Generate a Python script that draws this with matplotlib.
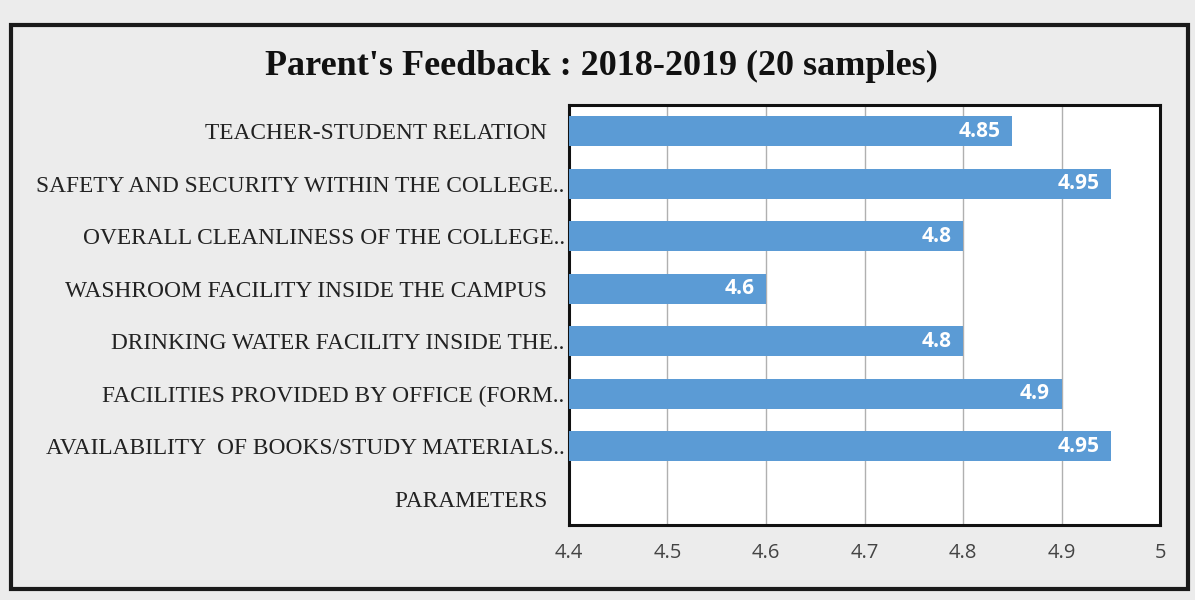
import matplotlib.pyplot as plt
from matplotlib.patches import Rectangle

# ---- data (top to bottom as in the chart) ----
categories = [
    "TEACHER-STUDENT RELATION   ",
    "SAFETY AND SECURITY WITHIN THE COLLEGE..",
    "OVERALL CLEANLINESS OF THE COLLEGE..",
    "WASHROOM FACILITY INSIDE THE CAMPUS   ",
    "DRINKING WATER FACILITY INSIDE THE..",
    "FACILITIES PROVIDED BY OFFICE (FORM..",
    "AVAILABILITY  OF BOOKS/STUDY MATERIALS..",
    "PARAMETERS   ",
]
scores = [4.85, 4.95, 4.8, 4.6, 4.8, 4.9, 4.95, None]
x_ticks = [4.4, 4.5, 4.6, 4.7, 4.8, 4.9, 5.0]
title = "Parent's Feedback : 2018-2019 (20 samples)"

bar_color = "#5b9bd5"

fig = plt.figure(figsize=(11.95, 6), dpi=100, facecolor="#ececec")

# outer frame of the chart area
fig.patches.append(Rectangle((0.009, 0.018), 0.985, 0.94, transform=fig.transFigure,
                             fill=False, edgecolor="#1a1a1a", linewidth=3))

ax = fig.add_axes([0.476, 0.125, 0.495, 0.70])
ax.set_facecolor("white")

ypos = list(range(len(categories)))
for y, v in zip(ypos, scores):
    if v is None:
        continue
    ax.barh(y, v - x_ticks[0], left=x_ticks[0], height=0.58, color=bar_color, zorder=3)
    ax.text(v - 0.012, y, f"{v:g}", ha="right", va="center", color="white",
            fontsize=15, fontweight="bold", family="Open Sans", zorder=4)

ax.set_ylim(len(categories) - 0.5, -0.5)
ax.set_yticks(ypos)
ax.set_yticklabels(categories, family="Liberation Serif", fontsize=16.8, color="#222222")
ax.tick_params(axis="y", length=0, pad=3)

ax.set_xlim(4.4, 5.0)
ax.set_xticks(x_ticks)
ax.set_xticklabels([f"{t:g}" for t in x_ticks], family="Open Sans", fontsize=14.5, color="#444444")
ax.tick_params(axis="x", length=0, pad=13)
ax.grid(axis="x", color="#b0b0b0", linewidth=1, zorder=0)

for s in ax.spines.values():
    s.set_linewidth(2.2)
    s.set_color("#111111")

fig.text(0.503, 0.89, title, ha="center", va="center", family="Liberation Serif",
         fontsize=26, fontweight="bold", color="#111111")

fig.savefig("out.png", dpi=100, facecolor=fig.get_facecolor())
